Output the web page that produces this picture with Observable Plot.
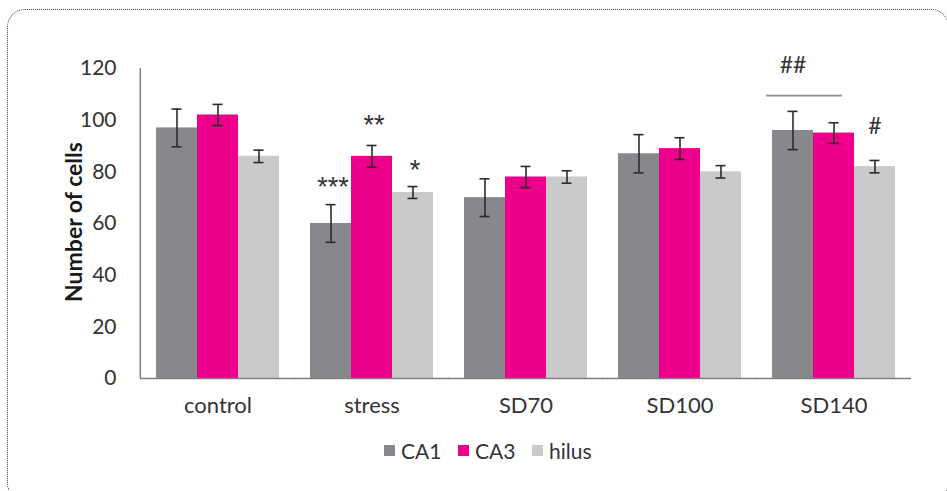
<!DOCTYPE html>
<html>
<head>
<meta charset="utf-8">
<script src="https://cdn.jsdelivr.net/npm/d3@7"></script>
<script src="https://cdn.jsdelivr.net/npm/@observablehq/plot@0.6"></script>
<style>
  html, body { margin: 0; padding: 0; background: #fff; overflow: hidden; }
  #wrap { position: relative; width: 947px; height: 491px; font-family: Lato, "Open Sans", sans-serif; }
  #border { position: absolute; left: 7px; top: 9px; width: 942px; height: 492px; border: 1.2px dotted #444; border-radius: 18px; box-sizing: border-box; }
  #chart { position: absolute; left: 0; top: 0; }
  #ylabel { position: absolute; left: 73px; top: 222px; transform: translate(-50%, -50%) rotate(-90deg); white-space: nowrap; font-weight: bold; font-size: 23px; color: #1a1a1a; }
  #legend { position: absolute; left: 0; top: 435px; width: 947px; height: 30px; font-size: 21px; color: #333; }
  #legend .item { position: absolute; top: 0; display: flex; align-items: center; height: 30px; }
  #legend .sw { width: 11px; height: 11px; margin-right: 6px; }
</style>
</head>
<body>
<div id="wrap">
  <div id="border"></div>
  <div id="chart"></div>
  <div id="ylabel">Number of cells</div>
  <div id="legend"></div>
</div>
<script>
const categories = ["control", "stress", "SD70", "SD100", "SD140"];
const series = ["CA1", "CA3", "hilus"];
const colors = ["#87888c", "#ec008b", "#c9cacc"];
const ca1 = [97, 60, 70, 87, 96];
const ca3 = [102, 86, 78, 89, 95];
const hilus = [86, 72, 78, 80, 82];
const ca1Err = [7.3, 7.3, 7.3, 7.4, 7.4];
const ca3Err = [4.1, 4.2, 4.1, 4.2, 4.0];
const hilusErr = [2.4, 2.3, 2.4, 2.4, 2.4];
const yTicks = [0, 20, 40, 60, 80, 100, 120];
const annText = ["***", "**", "*", "##", "#"];
const annCategory = ["stress", "stress", "stress", "SD140", "SD140"];
const annSeries = ["CA1", "CA3", "hilus", "CA1", "hilus"];
const annY = [74, 98, 80.5, 121, 97.5];
const bracketCategory = ["SD140"];
const bracketY = [109.3];
const legendLeft = [384, 458, 532];

const values = [ca1, ca3, hilus];
const errs = [ca1Err, ca3Err, hilusErr];
const rows = categories.flatMap((c, i) => series.map((s, j) => ({
  category: c, series: s, value: values[j][i], err: errs[j][i]
})));
const ann = annText.map((t, i) => ({text: t, category: annCategory[i], series: annSeries[i], y: annY[i]}));
const stars = ann.filter(d => d.text.startsWith("*"));
const hashes = ann.filter(d => d.text.startsWith("#"));
const bracket = bracketCategory.map((c, i) => ({category: c, series: "CA1", y: bracketY[i]}));

const errColor = "#2b2b2b";
const plot = Plot.plot({
  width: 947,
  height: 430,
  marginLeft: 139,
  marginRight: 34,
  marginTop: 68,
  marginBottom: 52,
  style: {fontFamily: "Lato, 'Open Sans', sans-serif", fontSize: "18px", color: "#333", background: "transparent"},
  fx: {domain: categories, paddingInner: 0.2, paddingOuter: 0.1, label: null},
  x: {domain: series, padding: 0, axis: null},
  y: {domain: [0, 120], label: null},
  color: {domain: series, range: colors},
  marks: [
    Plot.barY(rows, {fx: "category", x: "series", y: "value", fill: "series"}),
    Plot.ruleX(rows, {fx: "category", x: "series", y1: d => d.value - d.err, y2: d => d.value + d.err, stroke: errColor, strokeWidth: 1.6}),
    Plot.tickY(rows, {fx: "category", x: "series", y: d => d.value - d.err, insetLeft: 15.5, insetRight: 15.5, stroke: errColor, strokeWidth: 1.6}),
    Plot.tickY(rows, {fx: "category", x: "series", y: d => d.value + d.err, insetLeft: 15.5, insetRight: 15.5, stroke: errColor, strokeWidth: 1.6}),
    Plot.ruleY([0], {insetLeft: -16, insetRight: -16, stroke: "#7f7f7f", strokeWidth: 1.5}),
    Plot.ruleX([{category: "control"}], {fx: "category", x: () => "CA1", y1: 0, y2: 120, dx: -36.7, stroke: "#7f7f7f", strokeWidth: 1.5}),
    Plot.barY(bracket, {fx: "category", x: "series", y1: d => d.y - 0.35, y2: d => d.y + 0.35, insetLeft: -6, insetRight: -29, fill: "#8f8f8f"}),
    Plot.text(stars, {fx: "category", x: "series", y: "y", text: "text", fontSize: 27, fill: "#333", fontFamily: "'Liberation Sans', sans-serif", letterSpacing: "6px", dx: 2}),
    Plot.text(hashes, {fx: "category", x: "series", y: "y", text: "text", fontSize: 23, fill: "#333"}),
    Plot.axisY({ticks: yTicks, tickSize: 0, tickPadding: 24, dx: -16, label: null, fontSize: 21, fill: "#333"}),
    Plot.axisFx({anchor: "bottom", tickSize: 0, tickPadding: 19, label: null, fontSize: 22, fill: "#333"})
  ]
});
document.getElementById("chart").appendChild(plot);

const legend = document.getElementById("legend");
series.forEach((s, i) => {
  const item = document.createElement("div");
  item.className = "item";
  item.style.left = legendLeft[i] + "px";
  const sw = document.createElement("div");
  sw.className = "sw";
  sw.style.background = colors[i];
  const lb = document.createElement("span");
  lb.textContent = s;
  item.appendChild(sw);
  item.appendChild(lb);
  legend.appendChild(item);
});
</script>
</body>
</html>
